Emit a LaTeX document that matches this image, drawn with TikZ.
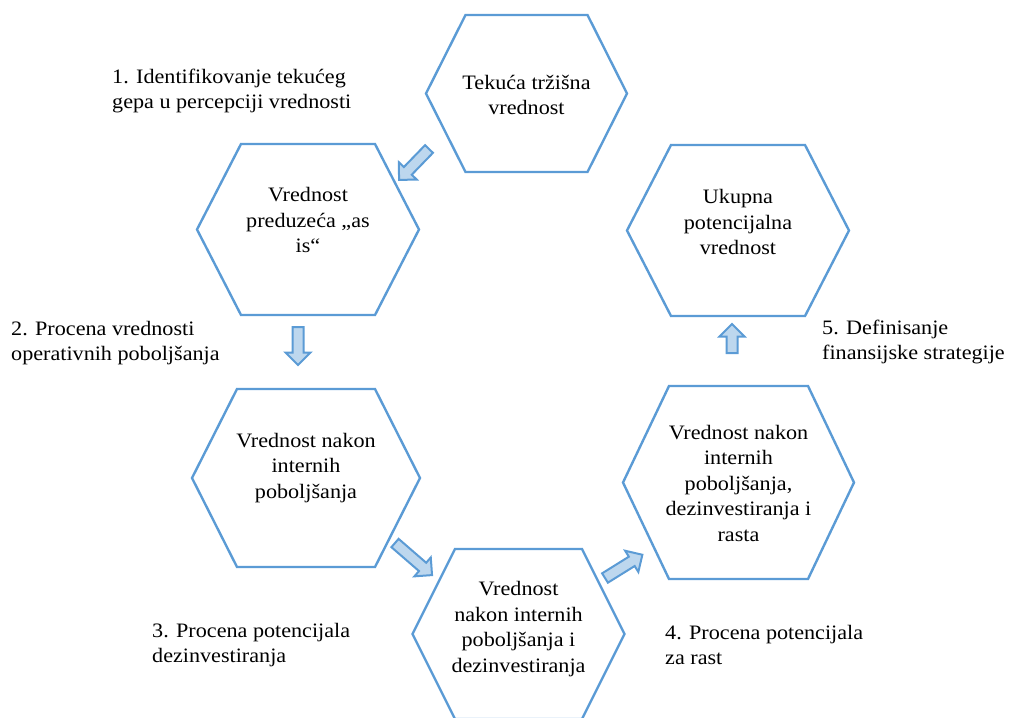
\documentclass[tikz,border=0pt]{standalone}
\usepackage{fontspec}
\setmainfont{Liberation Serif}[FakeStretch=1.08]

\definecolor{hexline}{HTML}{5B9BD5}
\definecolor{arrowfill}{HTML}{BDD7EE}

\tikzset{
  hexedge/.style={draw=hexline, line width=2.4pt, line join=miter},
  hextext/.style={align=center, inner sep=0pt, font=\fontsize{20.5}{25.5}\selectfont},
  steplabel/.style={anchor=west, align=left, inner sep=0pt, font=\fontsize{20.5}{25}\selectfont},
  blockarrow/.style={draw=hexline, fill=arrowfill, line width=2pt, line join=miter},
}

% #1 name, #2 cx, #3 cy, #4 half width, #5 half width of top edge, #6 half height
\newcommand\hexagonat[6]{%
  \coordinate (#1) at (#2,#3);
  \draw[hexedge, shift={(#1)}] (-#4,0) -- (-#5,-#6) -- (#5,-#6) -- (#4,0)
    -- (#5,#6) -- (-#5,#6) -- cycle;
}

% block arrow starting at coordinate #1, pointing in direction #2 (degrees), length #3
\newcommand\blockarrowat[3]{%
  \draw[blockarrow, shift={(#1)}, rotate=#2]
    (0,5.5) -- ({#3-12.5},5.5) -- ({#3-12.5},12.5) -- (#3,0)
    -- ({#3-12.5},-12.5) -- ({#3-12.5},-5.5) -- (0,-5.5) -- cycle;
}

\begin{document}
\begin{tikzpicture}[x=1pt, y=-1pt]
  \useasboundingbox (0,0) rectangle (1011,717);
  \clip (0,0) rectangle (1011,717);

  % hexagons
  \hexagonat{h1}{526.5}{93.5}{100.5}{61}{78.5}
  \hexagonat{h2}{308}{229.5}{111}{67}{85.5}
  \hexagonat{h3}{306}{478}{114}{69}{89}
  \hexagonat{h4}{518.5}{634}{106}{63.5}{85}
  \hexagonat{h5}{738.5}{482.5}{115.5}{69.5}{96.5}
  \hexagonat{h6}{738}{230.5}{111}{67}{85.5}

  % texts inside the hexagons
  \node[hextext] (t1) at (526.5,95) {Tekuća tržišna\\vrednost};
  \node[hextext] (t2) at (308,220) {Vrednost\\preduzeća „as\\is“};
  \node[hextext] (t3) at (306,468) {Vrednost nakon\\internih\\poboljšanja};
  \node[hextext] (t4) at (518.5,629) {Vrednost\\nakon internih\\poboljšanja i\\dezinvestiranja};
  \node[hextext] (t5) at (738.5,483) {Vrednost nakon\\internih\\poboljšanja,\\dezinvestiranja i\\rasta};
  \node[hextext] (t6) at (738,222) {Ukupna\\potencijalna\\vrednost};

  % block arrows between the stages
  \coordinate (a1) at (429,149);
  \coordinate (a2) at (298,327);
  \coordinate (a3) at (395,543);
  \coordinate (a4) at (605,578);
  \coordinate (a5) at (732,353);
  \blockarrowat{a1}{225.9}{43}
  \blockarrowat{a2}{-90}{38}
  \blockarrowat{a3}{-40.9}{49}
  \blockarrowat{a4}{31.9}{44}
  \blockarrowat{a5}{90}{29}

  % step labels
  \node[steplabel] (s1) at (112,90.5) {1. Identifikovanje tekućeg\\gepa u percepciji vrednosti};
  \node[steplabel] (s2) at (11,343) {2. Procena vrednosti\\operativnih poboljšanja};
  \node[steplabel] (s3) at (152,645) {3. Procena potencijala\\dezinvestiranja};
  \node[steplabel] (s4) at (665,645) {4. Procena potencijala\\za rast};
  \node[steplabel] (s5) at (822,342) {5. Definisanje\\finansijske strategije};
\end{tikzpicture}
\end{document}
